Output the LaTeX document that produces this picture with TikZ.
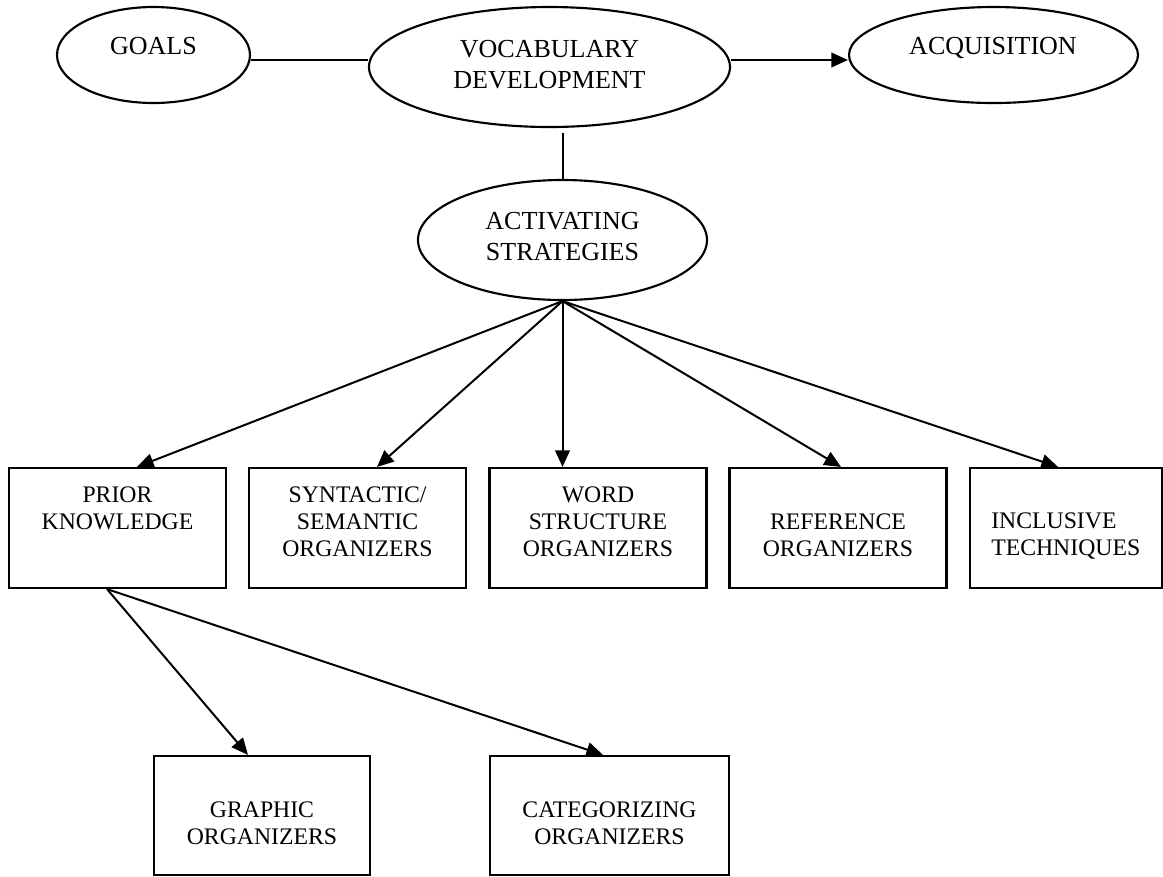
\documentclass[tikz,border=0pt]{standalone}
\usepackage{fontspec}
\setmainfont{Liberation Serif}
\usetikzlibrary{shapes.geometric,arrows.meta,calc}

\tikzset{
  oval/.style={draw, ellipse, line width=1.6pt, inner sep=0pt},
  stepbox/.style={draw, rectangle, line width=1.6pt, inner sep=0pt},
  ovaltext/.style={inner sep=0pt, anchor=north, align=center,
    font=\fontsize{19.5}{23.6}\selectfont},
  boxtext/.style={inner sep=0pt, anchor=north, align=center,
    font=\fontsize{17.8}{20.25}\selectfont},
  link/.style={line width=1.5pt},
  arrow/.style={line width=1.5pt, -{Triangle[length=12.5pt,width=11pt]}}
}

\begin{document}
\begin{tikzpicture}[x=0.75pt, y=-0.75pt]
  \useasboundingbox (0,0) rectangle (1163,876);

  % top row of ovals
  \node[oval, minimum width=144.75pt, minimum height=72pt] (goals) at (153.5,55) {};
  \node[oval, minimum width=270.75pt, minimum height=90pt] (vocab) at (549.5,67) {};
  \node[oval, minimum width=216.75pt, minimum height=72pt] (acq) at (993.5,55) {};
  \node[oval, minimum width=216.75pt, minimum height=90pt] (act) at (562.5,240) {};

  \node[ovaltext] (goals-t) at (153.5,32) {\strut GOALS};
  \node[ovaltext] (vocab-t) at (549.5,35) {\strut VOCABULARY\\DEVELOPMENT};
  \node[ovaltext] (acq-t) at (993,32) {\strut ACQUISITION};
  \node[ovaltext] (act-t) at (562.5,207) {\strut ACTIVATING\\STRATEGIES};

  % strategy boxes
  \node[stepbox, minimum width=162.75pt, minimum height=90pt] (prior) at (117.5,528) {};
  \node[stepbox, minimum width=162.75pt, minimum height=90pt] (synt) at (357.5,528) {};
  \node[stepbox, minimum width=162.75pt, minimum height=90pt] (word) at (598,528) {};
  \node[stepbox, minimum width=162.75pt, minimum height=90pt] (ref) at (838,528) {};
  \node[stepbox, minimum width=144pt, minimum height=90pt] (incl) at (1066,528) {};

  \node[boxtext] (prior-t) at (117.5,483.1) {\strut PRIOR\\KNOWLEDGE};
  \node[boxtext] (synt-t) at (357.5,483.1) {\strut SYNTACTIC/\\SEMANTIC\\ORGANIZERS};
  \node[boxtext] (word-t) at (598,483.1) {\strut WORD\\STRUCTURE\\ORGANIZERS};
  \node[boxtext] (ref-t) at (838,510.1) {\strut REFERENCE\\ORGANIZERS};
  \node[boxtext, anchor=north west, align=left] (incl-t) at (991,509.6) {\strut INCLUSIVE\\TECHNIQUES};

  % prior-knowledge organizers
  \node[stepbox, minimum width=162pt, minimum height=89.25pt] (graphic) at (262,815.5) {};
  \node[stepbox, minimum width=179.25pt, minimum height=89.25pt] (categ) at (609.5,815.5) {};

  \node[boxtext] (graphic-t) at (262,798.1) {\strut GRAPHIC\\ORGANIZERS};
  \node[boxtext] (categ-t) at (609.5,798.1) {\strut CATEGORIZING\\ORGANIZERS};

  % connectors
  \draw[link] ([yshift=-3.75pt]goals.east) -- ([yshift=5.25pt]vocab.west);
  \draw[arrow] ([yshift=5.25pt]vocab.east) -- ([yshift=-3.75pt]acq.west);
  \draw[link] ($(vocab.south -| act.north)+(0,5)$) -- (act.north);

  \draw[arrow] (act.south) -- ([xshift=14.625pt]prior.north);
  \draw[arrow] (act.south) -- ([xshift=14.625pt]synt.north);
  \draw[arrow] (act.south) -- (act.south |- word.north);
  \draw[arrow] (act.south) -- ([xshift=2.25pt]ref.north);
  \draw[arrow] (act.south) -- ([xshift=-6pt]incl.north);

  \draw[arrow] ([xshift=-7.875pt]prior.south) -- ([xshift=-10.5pt]graphic.north);
  \draw[arrow] ([xshift=-7.875pt]prior.south) -- ([xshift=-4.875pt]categ.north);
\end{tikzpicture}
\end{document}
